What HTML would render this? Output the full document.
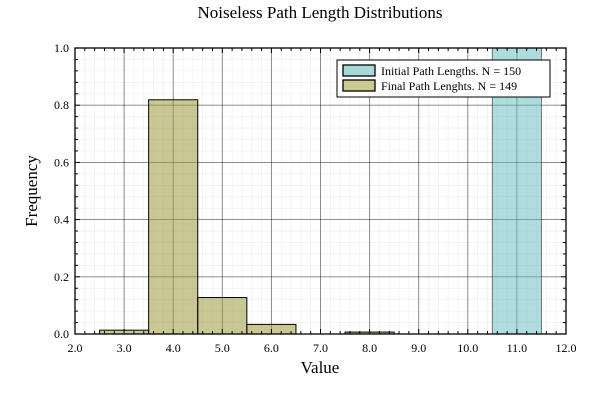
<!DOCTYPE html>
<html><head><meta charset="utf-8"><style>
body{margin:0;background:#fff;}
svg text{font-family:"Liberation Serif",serif;fill:#000;}
</style></head><body>
<svg id="chart" width="600" height="400" xmlns="http://www.w3.org/2000/svg">
<text x="320" y="18" font-size="17" text-anchor="middle">Noiseless Path Length Distributions</text>
<text x="320" y="373" font-size="17" text-anchor="middle">Value</text>
<text x="37" y="191" font-size="17" text-anchor="middle" transform="rotate(-90 37 191)">Frequency</text>
<g id="grid"></g><g id="bars"></g><g id="axes"></g>
<g>
<rect x="337" y="60" width="213" height="37" fill="#fff" stroke="#000" stroke-width="1"/>
<rect x="343" y="65" width="32" height="11" fill="#a9dadb" stroke="#000" stroke-width="1.3"/>
<text x="381" y="75" font-size="12">Initial Path Lengths. N = 150</text>
<rect x="343" y="80" width="32" height="11" fill="#cbca95" stroke="#000" stroke-width="1.3"/>
<text x="381" y="90" font-size="12">Final Path Lenghts. N = 149</text>
</g>
</svg>
<script>
const initialCenters=[11];
const initialValues=[1.0];
const finalCenters=[3,4,5,6,8];
const finalValues=[0.0134,0.819,0.1275,0.0336,0.0067];
const xTicks=[2,3,4,5,6,7,8,9,10,11,12];
const yTicks=[0,0.2,0.4,0.6,0.8,1.0];
const NS="http://www.w3.org/2000/svg";
const L=75,R=566,T=48,B=334;
const xs=v=>L+(v-2)/10*(R-L);
const ys=v=>B-v*(B-T);
function mk(tag,attrs,parent){const e=document.createElementNS(NS,tag);for(const k in attrs)e.setAttribute(k,attrs[k]);parent.appendChild(e);return e;}
const grid=document.getElementById('grid'),bars=document.getElementById('bars'),axes=document.getElementById('axes');
for(let i=0;i<=50;i++){const v=2+i*0.2;mk('line',{x1:xs(v),x2:xs(v),y1:T,y2:B,stroke:'#000','stroke-opacity':i%5?0.07:0.5,'stroke-width':i%5?0.6:0.9},grid);}
for(let i=0;i<=25;i++){const v=i*0.04;mk('line',{x1:L,x2:R,y1:ys(v),y2:ys(v),stroke:'#000','stroke-opacity':i%5?0.07:0.5,'stroke-width':i%5?0.6:0.9},grid);}
initialCenters.forEach((c,i)=>{const r=mk('rect',{x:xs(c-0.5),y:ys(initialValues[i]),width:xs(c+0.5)-xs(c-0.5),height:B-ys(initialValues[i]),fill:'#5fbcbd','fill-opacity':0.5,stroke:'#000','stroke-opacity':0.5,'stroke-width':1},bars);

});
finalCenters.forEach((c,i)=>{const r=mk('rect',{x:xs(c-0.5),y:ys(finalValues[i]),width:xs(c+0.5)-xs(c-0.5),height:B-ys(finalValues[i]),fill:'#9d9b3c','fill-opacity':0.55,stroke:'#000','stroke-width':1},bars);

});
mk('rect',{x:L,y:T,width:R-L,height:B-T,fill:'none',stroke:'#000','stroke-width':1.3},axes);
for(let i=0;i<=50;i++){const v=2+i*0.2,x=xs(v),len=i%5?3:5;mk('line',{x1:x,x2:x,y1:B,y2:B-len,stroke:'#000'},axes);mk('line',{x1:x,x2:x,y1:T,y2:T+len,stroke:'#000'},axes);}
for(let i=0;i<=25;i++){const y=ys(i*0.04),len=i%5?3:5;mk('line',{x1:L,x2:L+len,y1:y,y2:y,stroke:'#000'},axes);mk('line',{x1:R,x2:R-len,y1:y,y2:y,stroke:'#000'},axes);}
xTicks.forEach(v=>{const t=mk('text',{x:xs(v),y:B+18,'font-size':12,'text-anchor':'middle'},axes);t.textContent=v.toFixed(1);

});
yTicks.forEach(v=>{const t=mk('text',{x:L-6,y:ys(v)+4,'font-size':12,'text-anchor':'end'},axes);t.textContent=v.toFixed(1);

});
</script>
</body></html>
